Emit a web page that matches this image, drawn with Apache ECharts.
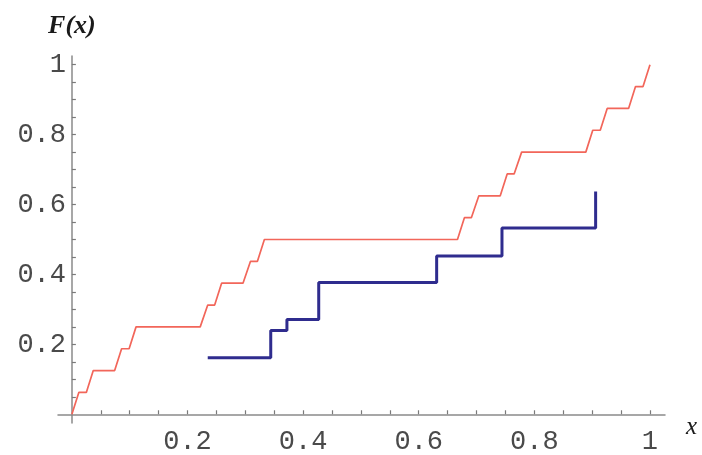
<!DOCTYPE html>
<html>
<head>
<meta charset="utf-8">
<script src="https://cdn.jsdelivr.net/npm/echarts@6/dist/echarts.min.js"></script>
<style>
html,body{margin:0;padding:0;background:#fff;}
#chart{width:702px;height:455px;}
</style>
</head>
<body>
<div id="chart"></div>
<script>
// Red staircase (Cantor-like) vertices
var redX = [0, 0.012, 0.025, 0.037, 0.074, 0.086, 0.099, 0.111, 0.222, 0.235, 0.247, 0.259, 0.296, 0.309, 0.321, 0.333,
            0.667, 0.679, 0.691, 0.704, 0.741, 0.753, 0.765, 0.778, 0.889, 0.901, 0.914, 0.926, 0.963, 0.975, 0.988, 1];
var redY = [0, 0.0625, 0.0625, 0.125, 0.125, 0.1875, 0.1875, 0.25, 0.25, 0.3125, 0.3125, 0.375, 0.375, 0.4375, 0.4375, 0.5,
            0.5, 0.5625, 0.5625, 0.625, 0.625, 0.6875, 0.6875, 0.75, 0.75, 0.8125, 0.8125, 0.875, 0.875, 0.9375, 0.9375, 1];
// Blue step function: jump positions and levels
var blueX = [0.235, 0.344, 0.372, 0.427, 0.631, 0.744, 0.906];
var blueY = [0.162, 0.240, 0.271, 0.377, 0.453, 0.533, 0.637];
// Tick labels and tick marks
var xLabelValues = [0.2, 0.4, 0.6, 0.8, 1];
var yLabelValues = [0.2, 0.4, 0.6, 0.8, 1];
var tickValues = [0.05, 0.1, 0.15, 0.2, 0.25, 0.3, 0.35, 0.4, 0.45, 0.5, 0.55, 0.6, 0.65, 0.7, 0.75, 0.8, 0.85, 0.9, 0.95, 1];

function zip(a, b) { return a.map(function (v, i) { return [v, b[i]]; }); }
function fmt(v) { return v === 1 ? '1' : String(Number(v.toFixed(1))); }

var chart = echarts.init(document.getElementById('chart'), null, { renderer: 'canvas' });
var axisLine = { onZero: true, lineStyle: { color: '#8a8a8a', width: 1.5 } };
var tickStyle = { color: '#7a7a7a', width: 1.2 };
var labelStyle = { fontFamily: 'Liberation Mono', fontSize: 27, color: '#4a4a4a' };
chart.setOption({
  animation: false,
  backgroundColor: '#ffffff',
  grid: { left: 58, right: 37, top: 56, bottom: 23, containLabel: false },
  xAxis: {
    type: 'value', min: -0.024, max: 1.026,
    axisLine: axisLine,
    splitLine: { show: false },
    axisTick: { show: true, inside: true, length: 4, customValues: tickValues, lineStyle: tickStyle },
    axisLabel: Object.assign({ customValues: xLabelValues, formatter: fmt, margin: 5 }, labelStyle)
  },
  yAxis: {
    type: 'value', min: -0.025, max: 1.025,
    axisLine: axisLine,
    splitLine: { show: false },
    axisTick: { show: true, inside: true, length: 4, customValues: tickValues, lineStyle: tickStyle },
    axisLabel: Object.assign({ customValues: yLabelValues, formatter: fmt, margin: -8 }, labelStyle)
  },
  series: [
    {
      type: 'line', data: zip(redX, redY), showSymbol: false, symbol: 'none',
      lineStyle: { color: '#f2665a', width: 1.7 }
    },
    {
      type: 'line', data: zip(blueX, blueY), step: 'end', showSymbol: false, symbol: 'none',
      lineStyle: { color: '#2f2c8e', width: 3 }
    }
  ]
});
// Axis titles placed relative to the axis ends
var xEnd = chart.convertToPixel({ gridIndex: 0 }, [1.026, 0]);
var yEnd = chart.convertToPixel({ gridIndex: 0 }, [0, 1.025]);
chart.setOption({
  graphic: [
    { type: 'text', x: xEnd[0] + 21, y: xEnd[1] + 13,
      style: { text: 'x', fontFamily: 'Liberation Serif', fontStyle: 'italic', fontSize: 25, fill: '#1a1a1a', align: 'left', verticalAlign: 'middle' } },
    { type: 'text', x: yEnd[0], y: yEnd[1] - 30,
      style: { text: 'F(x)', fontFamily: 'Liberation Serif', fontStyle: 'italic', fontWeight: 'bold', fontSize: 26, fill: '#1a1a1a', align: 'center', verticalAlign: 'middle' } }
  ]
});
</script>
</body>
</html>
